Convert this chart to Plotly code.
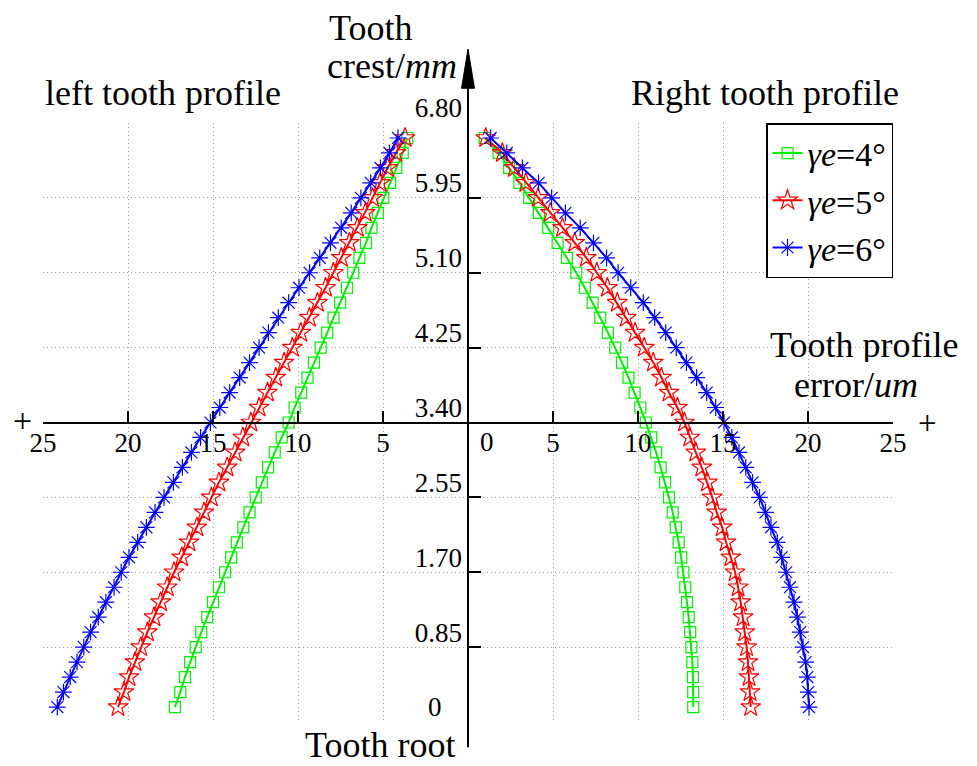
import plotly.graph_objects as go

# ---------------- data ----------------
y_mm = [0.17, 0.34, 0.51, 0.68, 0.85, 1.02, 1.19, 1.36, 1.53, 1.70,
        1.87, 2.04, 2.21, 2.38, 2.55, 2.72, 2.89, 3.06, 3.23, 3.40,
        3.57, 3.74, 3.91, 4.08, 4.25, 4.42, 4.59, 4.76, 4.93, 5.10,
        5.27, 5.44, 5.61, 5.78, 5.95, 6.12, 6.29, 6.46, 6.63]

# left tooth profile errors (um), magnitudes (plotted on the negative side)
left_g4 = [17.24, 16.92, 16.65, 16.35, 16.02, 15.69, 15.34, 15.00, 14.65, 14.29,
           13.93, 13.60, 13.22, 12.85, 12.49, 12.13, 11.76, 11.37, 10.96, 10.55,
           10.20, 9.81, 9.44, 9.06, 8.67, 8.28, 7.91, 7.52, 7.12, 6.75,
           6.39, 6.00, 5.68, 5.31, 4.98, 4.58, 4.22, 3.84, 3.57]
left_r5 = [20.59, 20.24, 19.94, 19.59, 19.25, 18.86, 18.47, 18.08, 17.69, 17.29,
           16.84, 16.41, 15.95, 15.53, 15.10, 14.65, 14.17, 13.70, 13.24, 12.77,
           12.29, 11.80, 11.31, 10.82, 10.33, 9.84, 9.33, 8.86, 8.38, 7.92,
           7.45, 6.98, 6.51, 6.04, 5.61, 5.17, 4.73, 4.24, 3.70]
left_b6 = [24.16, 23.80, 23.40, 23.00, 22.60, 22.20, 21.75, 21.30, 20.82, 20.40,
           19.94, 19.43, 18.92, 18.41, 17.88, 17.33, 16.80, 16.27, 15.73, 15.15,
           14.60, 14.02, 13.43, 12.85, 12.29, 11.74, 11.16, 10.55, 9.94, 9.32,
           8.72, 8.09, 7.46, 6.87, 6.30, 5.72, 5.15, 4.62, 4.12]

# right tooth profile errors (um)
right_g4 = [13.25, 13.25, 13.23, 13.20, 13.14, 13.07, 12.98, 12.88, 12.78, 12.67,
            12.54, 12.39, 12.22, 12.04, 11.82, 11.59, 11.33, 11.07, 10.78, 10.46,
            10.14, 9.80, 9.44, 9.06, 8.66, 8.23, 7.78, 7.33, 6.87, 6.37,
            5.82, 5.27, 4.72, 4.17, 3.60, 3.02, 2.42, 1.80, 0.98]
right_r5 = [16.63, 16.59, 16.53, 16.47, 16.39, 16.28, 16.18, 16.04, 15.89, 15.71,
            15.46, 15.18, 14.95, 14.63, 14.37, 14.08, 13.75, 13.40, 13.05, 12.73,
            12.32, 11.82, 11.38, 10.90, 10.37, 9.83, 9.31, 8.78, 8.20, 7.58,
            6.96, 6.28, 5.56, 4.84, 4.12, 3.40, 2.72, 2.02, 1.04]
right_b6 = [20.06, 20.02, 19.96, 19.86, 19.71, 19.54, 19.37, 19.18, 18.94, 18.72,
            18.45, 18.19, 17.82, 17.50, 17.15, 16.74, 16.34, 15.94, 15.52, 15.06,
            14.57, 14.04, 13.45, 12.85, 12.25, 11.63, 10.98, 10.31, 9.57, 8.83,
            8.15, 7.38, 6.60, 5.73, 4.92, 4.15, 3.20, 2.28, 1.33]

series_names = ["<i>γe</i>=4°", "<i>γe</i>=5°", "<i>γe</i>=6°"]
series_colors = ["#00ee00", "#ff0000", "#0000ff"]
series_symbols = ["square-open", "star-open", "asterisk-open"]
series_sizes = [11, 15, 14]
left_data = [left_g4, left_r5, left_b6]
right_data = [right_g4, right_r5, right_b6]

x_ticks = [-25, -20, -15, -10, -5, 5, 10, 15, 20, 25]
x_ticktext = ["25", "20", "15", "10", "5", "5", "10", "15", "20", "25"]
y_ticks = [0, 0.85, 1.70, 2.55, 3.40, 4.25, 5.10, 5.95, 6.80]
y_ticktext = ["", "0.85", "1.70", "2.55", "3.40", "4.25", "5.10", "5.95", "6.80"]

FONT = "Liberation Serif"

fig = go.Figure()
for i in range(3):
    fig.add_trace(go.Scatter(
        x=[-v for v in left_data[i]], y=y_mm, mode="lines+markers",
        name=series_names[i], legendgroup=str(i), showlegend=False,
        line=dict(color=series_colors[i], width=2),
        marker=dict(symbol=series_symbols[i], size=series_sizes[i],
                    color=series_colors[i], line=dict(width=1.2, color=series_colors[i]))))
    fig.add_trace(go.Scatter(
        x=right_data[i], y=y_mm, mode="lines+markers",
        name=series_names[i], legendgroup=str(i), showlegend=True,
        line=dict(color=series_colors[i], width=2),
        marker=dict(symbol=series_symbols[i], size=series_sizes[i],
                    color=series_colors[i], line=dict(width=1.2, color=series_colors[i]))))

GRID = dict(showgrid=True, gridcolor="#a0a0a0", griddash="1px,3px", gridwidth=1)

fig.update_layout(
    width=977, height=766, autosize=False,
    margin=dict(l=43, r=84, t=123, b=44),
    paper_bgcolor="white", plot_bgcolor="white",
    font=dict(family=FONT, color="black", size=26),
    xaxis=dict(range=[-25, 25], anchor="free", position=0.5,
               showline=True, linecolor="black", linewidth=2,
               ticks="inside", ticklen=11, tickwidth=2, tickcolor="black",
               tickvals=x_ticks, ticktext=x_ticktext,
               tickfont=dict(size=27, family=FONT, color="black"),
               ticklabelstandoff=-4,
               zeroline=False, **GRID),
    yaxis=dict(range=[0, 6.8], anchor="free", position=0.5,
               showline=False,
               ticks="inside", ticklen=12, tickwidth=2, tickcolor="black",
               tickvals=y_ticks, ticktext=y_ticktext,
               tickfont=dict(size=27, family=FONT, color="black"),
               ticklabelshift=-15, ticklabelstandoff=6,
               zeroline=False, **GRID),
    legend=dict(x=1, xanchor="right", y=1, yanchor="top",
                bordercolor="black", borderwidth=1.5, bgcolor="white",
                font=dict(size=34, family=FONT, color="black"), tracegroupgap=0),
    showlegend=True,
)

# y axis line extended beyond the plot area, with arrow head
fig.add_shape(type="line", xref="x", yref="paper", x0=0, x1=0, y0=-0.042, y1=1.06,
              line=dict(color="black", width=2))
fig.add_shape(type="path", xref="x", yref="paper",
              path="M -0.38,1.058 L 0.38,1.058 L 0,1.1235 Z",
              fillcolor="black", line=dict(color="black", width=1))

def ann(text, x, y, size=36, xanchor="center", height=None):
    fig.add_annotation(text=text, x=x, y=y, xref="paper", yref="paper",
                       xanchor=xanchor, yanchor="middle", showarrow=False,
                       height=height,
                       font=dict(size=size, family=FONT, color="black"))

ann("left tooth profile", 0.1412, 1.050)
ann("Right tooth profile", 0.8494, 1.050)
ann("Tooth", 0.3341, 1.158, xanchor="left")
ann("crest/<i>mm</i>", 0.3318, 1.095, xanchor="left")
ann("Tooth profile", 0.9659, 0.630, height=34)
ann("error/<i>um</i>", 0.9565, 0.562, height=30)
ann("Tooth root", 0.3965, -0.038, height=30)
ann("+", -0.0247, 0.504, size=34, height=24)
ann("+", 1.0400, 0.500, size=33, height=22)
ann("0", 0.5224, 0.467, size=27)
ann("0", 0.4612, 0.025, size=27)

fig.write_html("out.html")
